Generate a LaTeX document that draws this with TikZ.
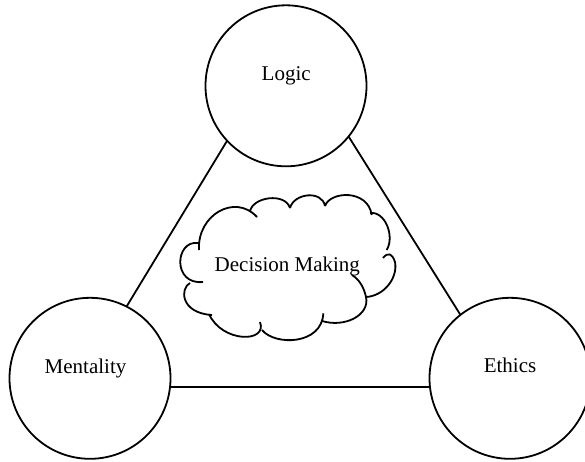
\documentclass[tikz,border=0pt]{standalone}
\usepackage{fontspec}
\setmainfont{Liberation Serif}
\begin{document}
\begin{tikzpicture}[x=1pt,y=-1pt,
  bubble/.style={draw, circle, line width=1.8pt, minimum size=161pt, inner sep=0pt, outer sep=0pt},
  txt/.style={inner sep=0pt, anchor=base, font=\fontsize{21}{25}\selectfont},
  link/.style={line width=1.8pt, line join=round}]
\useasboundingbox (0,0) rectangle (585,461);
\clip (0,0) rectangle (585,461);
% circles
\node[bubble] (logic) at (286,85.8) {};
\node[bubble] (ment) at (90,378.3) {};
\node[bubble] (eth) at (510,378.3) {};
% labels
\node[txt] (logict) at (286.2,80.7) {Logic};
\node[txt] (mentt) at (85.5,373.3) {Mentality};
\node[txt] (etht) at (510,372.7) {Ethics};
% connectors
\draw[link] (logic.223.3) -- (ment.63.5);
\draw[link] (logic.321.9) -- (eth.128.3);
\draw[link] (ment.-6.4) -- (eth.186.4);
% cloud
\draw[link]
 (199,250) .. controls (197,215) and (235,193) .. (257,217)
 (250,211.7) .. controls (252,197) and (285,192) .. (290,208)
 (290,208) .. controls (294,193) and (322,190) .. (325,206)
 (325,206) .. controls (330,191) and (368,189) .. (371.7,215)
 (370,213) .. controls (385,211) and (395,236) .. (386.7,250)
 (383,258) .. controls (388,252) and (392,253) .. (395,262)
           .. controls (398,278) and (384,296) .. (366,297)
 (352,275) .. controls (360,280) and (364,288) .. (366,297)
           .. controls (370,315) and (345,328) .. (322,321)
 (323.3,313.3) .. controls (322,345) and (275,346) .. (262,330)
 (260,322) .. controls (268,343) and (222,343) .. (209,314)
 (190,283) .. controls (180,288) and (180,313) .. (212,315)
 (198,243) .. controls (175,240) and (172,285) .. (203,282);
\node[txt] (dm) at (287.3,271.7) {Decision Making};
\end{tikzpicture}
\end{document}
